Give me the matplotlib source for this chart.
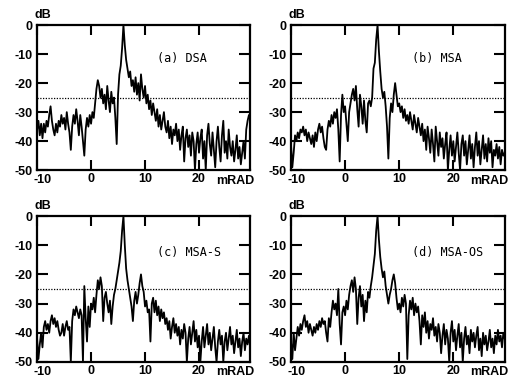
"""Beam pattern comparison, four panels (DSA / MSA / MSA-S / MSA-OS)."""
import matplotlib
matplotlib.use("Agg")
import matplotlib.pyplot as plt
import matplotlib.transforms as mtransforms
import numpy as np

# sample angles, mRAD (0.25 step, -10 .. 29.5)
angle = np.arange(-10.0, 29.5 + 0.001, 0.25)

dsa = [
    -36, -33, -38, -34, -39, -34, -37, -33,
    -35, -31, -28, -33, -36, -38, -34, -37,
    -33, -35, -31, -34, -32, -36, -30, -34,
    -37, -43, -35, -31, -34, -29, -33, -38,
    -31, -35, -40, -45, -36, -32, -35, -31,
    -34, -30, -32, -27, -22, -19, -21, -25,
    -22, -27, -24, -29, -21, -26, -30, -23,
    -27, -25, -32, -41, -24, -17, -14, -8,
    0, -7, -12, -15, -18, -16, -21, -19,
    -23, -18, -24, -20, -26, -17, -22, -25,
    -21, -27, -24, -29, -26, -31, -27, -30,
    -33, -29, -35, -31, -36, -33, -30, -35,
    -37, -33, -39, -35, -41, -36, -38, -34,
    -40, -36, -43, -38, -35, -47, -39, -36,
    -42, -38, -45, -37, -40, -50, -41, -37,
    -44, -39, -36, -46, -40, -50, -38, -34,
    -41, -45, -37, -43, -49, -40, -35, -42,
    -47, -38, -33, -44, -40, -46, -36, -42,
    -45, -40, -47, -43, -38, -46, -42, -48,
    -44, -40, -46, -36, -33, -31, -32,
]

msa = [
    -41, -49, -44, -38, -40, -37, -39, -36,
    -37, -35, -38, -36, -40, -37, -39, -41,
    -38, -42, -37, -40, -36, -34, -37, -35,
    -39, -42, -43, -36, -33, -35, -31, -34,
    -30, -32, -29, -36, -47, -31, -24, -30,
    -28, -34, -40, -30, -27, -24, -22, -26,
    -21, -29, -35, -24, -28, -34, -26, -33,
    -37, -27, -26, -28, -25, -15, -13, -5,
    0, -9, -16, -22, -25, -23, -28, -35,
    -46, -32, -27, -30, -24, -20, -24, -28,
    -27, -30, -28, -32, -29, -33, -31, -34,
    -30, -33, -36, -31, -34, -37, -32, -35,
    -38, -34, -40, -36, -43, -35, -39, -44,
    -36, -41, -47, -35, -40, -45, -37, -42,
    -39, -46, -41, -37, -50, -43, -38, -45,
    -40, -47, -42, -37, -44, -50, -41, -38,
    -45, -40, -48, -43, -38, -46, -41, -49,
    -42, -37, -45, -40, -48, -43, -38, -46,
    -41, -47, -39, -44, -40, -49, -43, -45,
    -41, -46, -42, -48, -43, -45, -44,
]

msa_s = [
    -42, -49, -44, -40, -45, -38, -36, -39,
    -37, -40, -36, -34, -37, -35, -38, -36,
    -39, -41, -40, -37, -41, -38, -36, -39,
    -38, -50, -36, -32, -34, -31, -33, -35,
    -32, -34, -50, -24, -35, -43, -31, -38,
    -30, -32, -28, -33, -27, -22, -25, -21,
    -24, -36, -28, -26, -30, -33, -29, -37,
    -31, -27, -25, -22, -19, -16, -12, -5,
    0, -10, -18, -22, -25, -28, -31, -36,
    -29, -26, -30, -27, -23, -20, -24, -26,
    -31, -29, -33, -32, -43, -30, -28, -33,
    -29, -34, -31, -36, -32, -35, -33, -37,
    -35, -39, -36, -42, -38, -35, -40, -37,
    -41, -38, -44, -39, -42, -37, -40, -50,
    -42, -38, -44, -40, -36, -43, -39, -45,
    -41, -50, -43, -38, -45, -41, -37, -44,
    -40, -46, -42, -38, -45, -50, -43, -39,
    -44, -41, -50, -43, -40, -46, -42, -38,
    -44, -41, -47, -43, -39, -45, -42, -48,
    -43, -40, -46, -42, -44, -41, -45,
]

msa_os = [
    -43, -49, -40, -46, -42, -38, -41, -37,
    -39, -36, -34, -38, -36, -40, -37, -39,
    -41, -38, -40, -37, -39, -36, -38, -35,
    -37, -36, -40, -43, -35, -38, -33, -29,
    -32, -30, -34, -25, -37, -44, -33, -31,
    -34, -29, -32, -27, -24, -22, -26, -21,
    -25, -37, -28, -24, -31, -27, -36, -29,
    -33, -26, -28, -24, -21, -17, -13, -5,
    0, -8, -14, -18, -21, -19, -24, -27,
    -30, -27, -25, -22, -20, -23, -28, -32,
    -30, -33, -28, -31, -27, -30, -49, -34,
    -29, -32, -28, -34, -30, -33, -31, -36,
    -44, -34, -38, -33, -40, -36, -42, -37,
    -39, -35, -41, -38, -43, -37, -40, -47,
    -41, -37, -44, -39, -42, -50, -40, -36,
    -43, -39, -46, -41, -37, -45, -40, -50,
    -42, -38, -44, -41, -47, -39, -43, -40,
    -45, -41, -38, -46, -42, -48, -40, -44,
    -41, -46, -43, -39, -45, -42, -47, -41,
    -44, -39, -43, -41, -45, -40, -42,
]

panels = [
    ("(a) DSA", dsa),
    ("(b) MSA", msa),
    ("(c) MSA-S", msa_s),
    ("(d) MSA-OS", msa_os),
]
threshold_db = -25
x_ticks = [-10, 0, 10, 20]
y_ticks = [0, -10, -20, -30, -40, -50]

# axes boxes in figure fractions (left, bottom, width, height)
boxes = [
    (0.072, 0.551, 0.414, 0.383),
    (0.565, 0.551, 0.415, 0.383),
    (0.072, 0.045, 0.414, 0.385),
    (0.565, 0.045, 0.415, 0.385),
]

LABEL_FONT = dict(family="Liberation Sans", weight="bold", size=9)


def draw_panel(fig, ax, title, values, label_y):
    assert len(values) == len(angle)
    ax.plot(angle, values, color="black", lw=1.3)
    ax.axhline(threshold_db, color="black", lw=0.9, ls=(0, (1, 1.2)))
    ax.set_xlim(-10, 29.5)
    ax.set_ylim(-50, 0)
    for s in ax.spines.values():
        s.set_linewidth(1.6)

    ax.set_xticks(x_ticks)
    ax.set_xticklabels([str(t) for t in x_ticks], fontdict=LABEL_FONT)
    ax.set_yticks(y_ticks)
    ax.set_yticklabels([str(t) for t in y_ticks], fontdict=LABEL_FONT)
    ax.tick_params(axis="x", direction="in", length=7, width=1.5,
                   top=True, pad=2)
    ax.tick_params(axis="y", direction="in", length=8, width=1.5,
                   right=True, pad=3)
    # nudge the first x label clear of the "-50" label, as in the original
    first = ax.get_xticklabels()[0]
    first.set_transform(first.get_transform() + mtransforms.ScaledTranslation(
        4 / 72, -1 / 72, fig.dpi_scale_trans))

    ax.text(-0.01, 1.03, "dB", transform=ax.transAxes, ha="left",
            va="bottom", **LABEL_FONT)
    ax.text(30.2, -51.5, "mRAD", ha="right", va="top", clip_on=False,
            **LABEL_FONT)
    ax.text(12.3, label_y, title, ha="left", va="center",
            family="DejaVu Sans Mono", size=8.5)


fig = plt.figure(figsize=(5.15, 3.79), dpi=100)
for i, (title, vals) in enumerate(panels):
    ax = fig.add_axes(boxes[i])
    draw_panel(fig, ax, title, vals, -11.5 if i < 2 else -12.5)

fig.savefig("out.png", dpi=100)
